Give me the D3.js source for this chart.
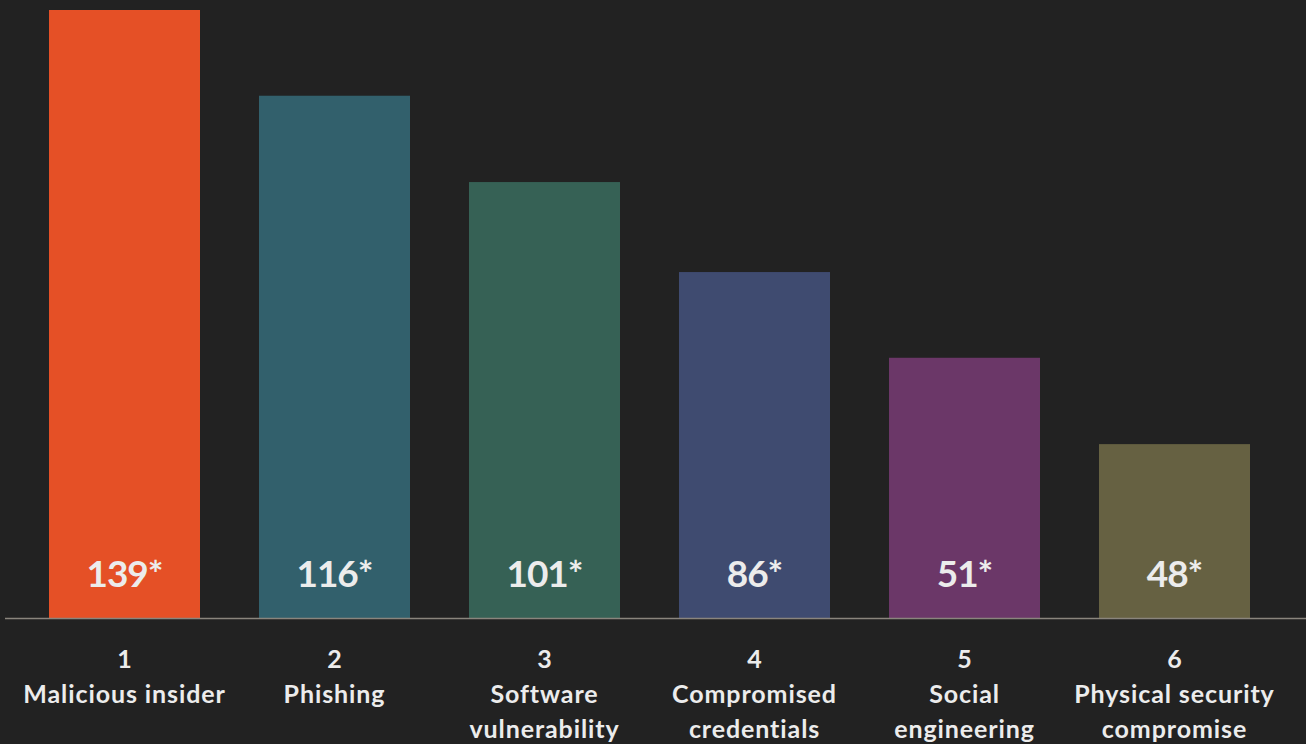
<!DOCTYPE html>
<html>
<head>
<meta charset="utf-8">
<script src="https://cdn.jsdelivr.net/npm/d3@7"></script>
<style>
  html, body { margin: 0; padding: 0; background: #222222; }
  svg { display: block; }
  text { font-family: Lato, "Open Sans", sans-serif; font-weight: 700; fill: #ececec; }
</style>
</head>
<body>
<svg id="chart" width="1306" height="744"></svg>
<script>
// Data
const ranks = ["1", "2", "3", "4", "5", "6"];
const categories = [
  ["Malicious insider"],
  ["Phishing"],
  ["Software", "vulnerability"],
  ["Compromised", "credentials"],
  ["Social", "engineering"],
  ["Physical security", "compromise"]
];
const values = [139, 116, 101, 86, 51, 48];
const valueLabels = ["139*", "116*", "101*", "86*", "51*", "48*"];
// relative bar length (percent of the tallest bar), as drawn in the reference
const barScores = [100, 85.9, 71.7, 56.9, 42.8, 28.6];
const colors = ["#e55026", "#32606c", "#366155", "#3f4b70", "#6b3768", "#666142"];

const W = 1306, H = 744;
const svg = d3.select("#chart");
const baseline = 618;

const x = d3.scaleBand()
  .domain(ranks)
  .range([19.5, 1279.5])
  .paddingInner(59 / 210)
  .paddingOuter(29.5 / 210);

const y = d3.scaleLinear()
  .domain([0, 100])
  .range([baseline, 10]);

const rows = ranks.map((r, i) => ({
  rank: r, lines: categories[i], value: values[i],
  label: valueLabels[i], score: barScores[i], color: colors[i]
}));

svg.selectAll("rect.bar")
  .data(rows)
  .join("rect")
  .attr("class", "bar")
  .attr("x", d => x(d.rank))
  .attr("width", x.bandwidth())
  .attr("y", d => y(d.score))
  .attr("height", d => y(0) - y(d.score))
  .attr("fill", d => d.color);

svg.selectAll("text.val")
  .data(rows)
  .join("text")
  .attr("class", "val")
  .attr("x", d => x(d.rank) + x.bandwidth() / 2)
  .attr("y", 587)
  .attr("text-anchor", "middle")
  .style("font-size", "37px")
  .style("letter-spacing", "-1px")
  .text(d => d.label);

// baseline axis
svg.append("line")
  .attr("x1", 5).attr("x2", W)
  .attr("y1", baseline + 0.5).attr("y2", baseline + 0.5)
  .attr("stroke", "#8a857d")
  .attr("stroke-width", 1.5);

const labels = svg.selectAll("g.cat")
  .data(rows)
  .join("g")
  .attr("class", "cat")
  .attr("transform", d => `translate(${x(d.rank) + x.bandwidth() / 2},0)`);

labels.append("text")
  .attr("y", 668)
  .attr("text-anchor", "middle")
  .style("font-size", "25px")
  .text(d => d.rank);

labels.each(function(d) {
  d3.select(this).selectAll("text.name")
    .data(d.lines)
    .join("text")
    .attr("class", "name")
    .attr("y", (t, i) => 703 + i * 35)
    .attr("text-anchor", "middle")
    .style("font-size", "25px")
    .style("letter-spacing", "0.9px")
    .text(t => t);
});
</script>
</body>
</html>
